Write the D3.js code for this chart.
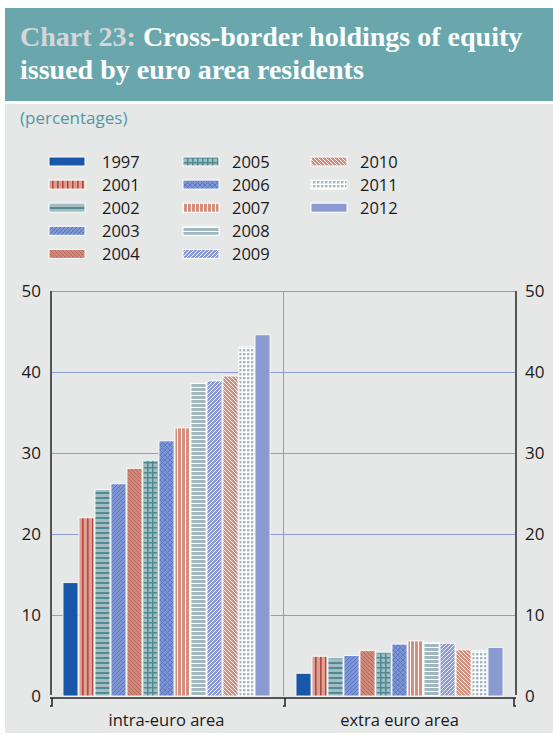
<!DOCTYPE html>
<html><head><meta charset="utf-8">
<script src="https://cdn.jsdelivr.net/npm/d3@7/dist/d3.min.js"></script>
<style>body{margin:0;background:#fff}svg{display:block}</style>
</head><body>
<svg id="chart" width="553" height="735"></svg>
<script>
const categories = ["intra-euro area", "extra euro area"];
const years = ["1997","2001","2002","2003","2004","2005","2006","2007","2008","2009","2010","2011","2012"];
const intraEuro = [14.0, 22.0, 25.5, 26.2, 28.1, 29.1, 31.5, 33.1, 38.6, 38.9, 39.5, 43.1, 44.6];
const extraEuro = [2.8, 4.9, 4.7, 5.0, 5.6, 5.4, 6.4, 6.8, 6.6, 6.5, 5.7, 5.6, 6.0];
const yTicks = [0, 10, 20, 30, 40, 50];

const svg = d3.select("#chart");
const FONT = "'Open Sans', 'Noto Sans', sans-serif";

const defs = svg.append("defs");
function pat(id, size, bg, draw){
  const p = defs.append("pattern").attr("id", id).attr("patternUnits","userSpaceOnUse")
    .attr("width", size).attr("height", size);
  p.append("rect").attr("width", size).attr("height", size).attr("fill", bg);
  draw(p, size);
}
const fills = {};
fills["1997"] = "#1a57a9";
pat("p2001", 5, "#dc9f92", (p,s)=>p.append("rect").attr("x",2).attr("width",1.6).attr("height",s).attr("fill","#b0473f"));
fills["2001"] = "url(#p2001)";
pat("p2002", 5, "#a3bbc1", (p,s)=>p.append("rect").attr("y",2).attr("width",s).attr("height",2).attr("fill","#4f8c94"));
fills["2002"] = "url(#p2002)";
pat("p2003", 4, "#7f97d4", (p,s)=>p.append("path").attr("d","M-1,5 L5,-1 M-1,1 L1,-1 M3,5 L5,3").attr("stroke","#5671c0").attr("stroke-width",0.9));
fills["2003"] = "url(#p2003)";
pat("p2004", 4, "#cf897a", (p,s)=>p.append("path").attr("d","M-1,-1 L5,5 M3,-1 L5,1 M-1,3 L1,5").attr("stroke","#b46758").attr("stroke-width",0.9));
fills["2004"] = "url(#p2004)";
pat("p2005", 5, "#a3bec2", (p,s)=>{p.append("rect").attr("x",2).attr("width",1.5).attr("height",s).attr("fill","#4c8b92");
  p.append("rect").attr("y",2).attr("width",s).attr("height",1.5).attr("fill","#4c8b92");});
fills["2005"] = "url(#p2005)";
pat("p2006", 5, "#7d96d2", (p,s)=>p.append("path").attr("d","M0,0 L5,5 M5,0 L0,5").attr("stroke","#5d78c2").attr("stroke-width",1));
fills["2006"] = "url(#p2006)";
pat("p2007", 4, "#d38f7c", (p,s)=>p.append("rect").attr("x",3).attr("width",1).attr("height",s).attr("fill","#ffffff"));
fills["2007"] = "url(#p2007)";
pat("p2008", 4, "#a1b7bf", (p,s)=>p.append("rect").attr("y",3).attr("width",s).attr("height",1).attr("fill","#ffffff"));
fills["2008"] = "url(#p2008)";
pat("p2009", 4, "#8c9bd8", (p,s)=>p.append("path").attr("d","M-1,5 L5,-1 M-1,1 L1,-1 M3,5 L5,3").attr("stroke","#ffffff").attr("stroke-width",0.9));
fills["2009"] = "url(#p2009)";
pat("p2010", 4, "#d4917f", (p,s)=>p.append("path").attr("d","M-1,-1 L5,5 M3,-1 L5,1 M-1,3 L1,5").attr("stroke","#ffffff").attr("stroke-width",0.9));
fills["2010"] = "url(#p2010)";
pat("p2011", 4, "#ffffff", (p,s)=>p.append("rect").attr("x",1).attr("y",1).attr("width",2.4).attr("height",2.4).attr("fill","#a1b6c0"));
fills["2011"] = "url(#p2011)";
fills["2012"] = "#8a9bd2";

svg.append("rect").attr("x",5).attr("y",8).attr("width",548).attr("height",93).attr("fill","#6aa7ad");
svg.append("rect").attr("x",5).attr("y",104).attr("width",548).attr("height",629).attr("fill","#e6e7e7");

const title = svg.append("text").attr("font-family","'Liberation Serif', 'DejaVu Serif', serif")
  .attr("font-weight","bold").attr("font-size",28).attr("fill","#ffffff");
const t1 = title.append("tspan").attr("x",20).attr("y",46);
t1.append("tspan").attr("fill","#d6d6d8").text("Chart 23: ");
t1.append("tspan").text("Cross-border holdings of equity");
title.append("tspan").attr("x",20).attr("y",79).text("issued by euro area residents");

svg.append("text").attr("x",20).attr("y",124).attr("font-family",FONT).attr("font-size",17)
  .attr("fill","#4f9aa1").text("(percentages)");

const leg = svg.append("g");
const colX = [49, 183, 311];
const txtX = [102, 232, 360];
years.forEach((yr,i)=>{
  const c = Math.floor(i/5), r = i%5;
  const cy = 161.5 + r*23.1;
  leg.append("rect").attr("x",colX[c]).attr("y",cy-4.5).attr("width",36).attr("height",9)
    .attr("fill",fills[yr]).attr("stroke","#ffffff").attr("stroke-width",1);
  leg.append("text").attr("x",txtX[c]).attr("y",cy+6).attr("font-family",FONT).attr("font-size",16.5)
    .attr("fill","#1a1a1a").text(yr);
});

const x0 = d3.scaleBand().domain(categories).range([50,516]).paddingInner(0).paddingOuter(0);
const x1 = d3.scaleBand().domain(years).range([0, x0.bandwidth()]).paddingInner(0).paddingOuter(0.78);
const y = d3.scaleLinear().domain([0,50]).range([696,291]);

const grid = svg.append("g");
grid.selectAll("line.h").data(yTicks.filter(d=>d>0)).join("line")
  .attr("x1",50).attr("x2",516).attr("y1",d=>Math.round(y(d))+0.5).attr("y2",d=>Math.round(y(d))+0.5)
  .attr("stroke","#8d9bd8").attr("stroke-width",1);
grid.append("line").attr("x1",x0(categories[1])+0.5).attr("x2",x0(categories[1])+0.5)
  .attr("y1",y(50)).attr("y2",y(0)).attr("stroke","#8d9bd8").attr("stroke-width",1);

const series = [intraEuro, extraEuro];
const groups = svg.append("g").selectAll("g").data(categories).join("g")
  .attr("transform", d=>`translate(${x0(d)},0)`);
groups.selectAll("rect").data((d,gi)=>years.map((yr,i)=>({yr, v: series[gi][i]}))).join("rect")
  .attr("x", d=>x1(d.yr)+0.5).attr("width", x1.bandwidth()-1)
  .attr("y", d=>y(d.v)).attr("height", d=>y(0)-y(d.v))
  .attr("fill", d=>fills[d.yr]).attr("stroke","#ffffff").attr("stroke-opacity",0.85).attr("stroke-width",1);

const axisColor = "#555555";
svg.append("line").attr("x1",51).attr("x2",51).attr("y1",y(50)).attr("y2",695).attr("stroke",axisColor).attr("stroke-width",2);
svg.append("line").attr("x1",516).attr("x2",516).attr("y1",y(50)).attr("y2",695).attr("stroke",axisColor).attr("stroke-width",2);
const xAxis = d3.axisBottom(x0).tickSize(0).tickFormat(d=>d);
const xa = svg.append("g").attr("transform",`translate(0,${y(0)+2})`).call(xAxis);
xa.select(".domain").attr("stroke",axisColor).attr("stroke-width",2).attr("d","M50,0H516");
xa.selectAll(".tick text").attr("font-family",FONT).attr("font-size",16.5).attr("fill","#1a1a1a").attr("dy",0).attr("y",28);
[50, x0(categories[1]), 516].forEach((bx,i)=>{
  const dir = i===2 ? -1 : 1;
  xa.append("path").attr("d",`M${bx+dir*2},0 V8 H${bx}`).attr("fill","none").attr("stroke","#222").attr("stroke-width",1.5);
});

const yl = d3.axisLeft(y).tickValues(yTicks).tickSize(0).tickPadding(10);
const ya = svg.append("g").attr("transform","translate(51,0)").call(yl);
ya.select(".domain").remove();
ya.selectAll("text").attr("font-family",FONT).attr("font-size",17).attr("fill","#1a1a1a");
const yr2 = d3.axisRight(y).tickValues(yTicks).tickSize(0).tickPadding(9);
const ya2 = svg.append("g").attr("transform","translate(516,0)").call(yr2);
ya2.select(".domain").remove();
ya2.selectAll("text").attr("font-family",FONT).attr("font-size",17).attr("fill","#1a1a1a");
</script>
</body></html>
